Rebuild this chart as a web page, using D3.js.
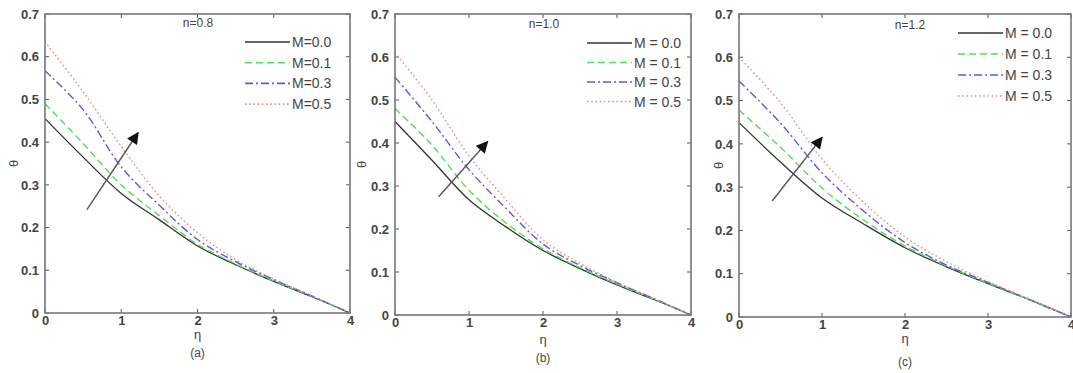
<!DOCTYPE html>
<html><head><meta charset="utf-8">
<script src="https://cdn.jsdelivr.net/npm/d3@7"></script>
<style>
body{margin:0;background:#fff;}
svg text{font-family:"Liberation Sans",Arial,sans-serif;fill:#444;}
</style></head>
<body><svg id="c" width="1073" height="373"></svg>
<script>
const eta = [0, 0.5, 1, 1.5, 2, 2.5, 3, 3.5, 4];
const xTicks = [0, 1, 2, 3, 4];
const yTicks = [0, 0.1, 0.2, 0.3, 0.4, 0.5, 0.6, 0.7];
const mValues = [0.0, 0.1, 0.3, 0.5];
const panelN = ["n=0.8", "n=1.0", "n=1.2"];
const panelTags = ["(a)", "(b)", "(c)"];

const a_M00 = [0.455, 0.365, 0.280, 0.218, 0.157, 0.113, 0.074, 0.038, 0];
const a_M01 = [0.490, 0.397, 0.300, 0.228, 0.161, 0.115, 0.075, 0.039, 0];
const a_M03 = [0.567, 0.476, 0.342, 0.252, 0.172, 0.120, 0.078, 0.040, 0];
const a_M05 = [0.635, 0.518, 0.390, 0.274, 0.188, 0.125, 0.080, 0.040, 0];

const b_M00 = [0.450, 0.360, 0.268, 0.205, 0.150, 0.108, 0.070, 0.036, 0];
const b_M01 = [0.480, 0.395, 0.290, 0.214, 0.154, 0.110, 0.072, 0.037, 0];
const b_M03 = [0.553, 0.450, 0.338, 0.248, 0.165, 0.115, 0.075, 0.038, 0];
const b_M05 = [0.610, 0.500, 0.370, 0.268, 0.175, 0.120, 0.076, 0.038, 0];

const c_M00 = [0.449, 0.358, 0.275, 0.215, 0.160, 0.116, 0.077, 0.040, 0];
const c_M01 = [0.478, 0.392, 0.298, 0.224, 0.164, 0.118, 0.078, 0.040, 0];
const c_M03 = [0.545, 0.448, 0.333, 0.245, 0.172, 0.120, 0.080, 0.040, 0];
const c_M05 = [0.600, 0.495, 0.365, 0.265, 0.185, 0.128, 0.082, 0.041, 0];

// arrow [eta0, theta0, eta1, theta1]
const arrowA = [0.55, 0.242, 1.22, 0.422];
const arrowB = [0.59, 0.275, 1.25, 0.403];
const arrowC = [0.40, 0.268, 1.00, 0.415];

const styles = [
  {color:"#333333", dash:null, w:1.3},
  {color:"#4fe04f", dash:"7,4", w:1.4},
  {color:"#5a5ae0", dash:"8,3,2,3", w:1.4},
  {color:"#f08a8a", dash:"1.6,2.6", w:1.4}
];

const panels = [
  {series:[a_M00,a_M01,a_M03,a_M05], arrow:arrowA, box:[45,350,14,313], legSep:"=", legX:245, legY:42, legDy:20.7, nX:198, nY:27, thX:13, etaY:339, tagY:357},
  {series:[b_M00,b_M01,b_M03,b_M05], arrow:arrowB, box:[395,691,14,315], legSep:" = ", legX:587, legY:43, legDy:19.5, nX:544, nY:28, thX:361, etaY:344, tagY:362},
  {series:[c_M00,c_M01,c_M03,c_M05], arrow:arrowC, box:[739,1071,14,317], legSep:" = ", legX:958, legY:33, legDy:21, nX:910, nY:29, thX:718, etaY:343, tagY:366}
];

const svg = d3.select("#c");
const defs = svg.append("defs");
defs.append("marker").attr("id","ah").attr("viewBox","0 0 10 10").attr("refX",9).attr("refY",5)
  .attr("markerWidth",13).attr("markerHeight",12).attr("markerUnits","userSpaceOnUse").attr("orient","auto")
  .append("path").attr("d","M0,0 L10,5 L0,10 z").attr("fill","#111");

panels.forEach((p, i) => {
  const [x0,x1,y0,y1] = p.box;
  const x = d3.scaleLinear().domain([0,4]).range([x0,x1]);
  const y = d3.scaleLinear().domain([0,0.7]).range([y1,y0]);
  const g = svg.append("g");

  const tl = 4;
  const tickStyle = s => s.attr("stroke","#555").attr("stroke-width",1);
  xTicks.forEach(t => {
    tickStyle(g.append("line").attr("x1",x(t)).attr("x2",x(t)).attr("y1",y1).attr("y2",y1-tl));
    tickStyle(g.append("line").attr("x1",x(t)).attr("x2",x(t)).attr("y1",y0).attr("y2",y0+tl));
  });
  yTicks.forEach(t => {
    tickStyle(g.append("line").attr("x1",x0).attr("x2",x0+tl).attr("y1",y(t)).attr("y2",y(t)));
    tickStyle(g.append("line").attr("x1",x1).attr("x2",x1-tl).attr("y1",y(t)).attr("y2",y(t)));
  });

  const line = d3.line().x((d,j)=>x(eta[j])).y(d=>y(d)).curve(d3.curveCatmullRom.alpha(0.5));
  p.series.forEach((s, k) => {
    const st = styles[k];
    g.append("path").attr("d", line(s)).attr("fill","none").attr("stroke",st.color)
      .attr("stroke-width",st.w).attr("stroke-dasharray",st.dash);
  });

  g.append("rect").attr("x",x0).attr("y",y0).attr("width",x1-x0).attr("height",y1-y0)
    .attr("fill","none").attr("stroke","#777").attr("stroke-width",1.6);

  const xa = d3.axisBottom(x).tickValues(xTicks).tickSize(0).tickPadding(3).tickFormat(d3.format("d"));
  const gx = g.append("g").attr("transform",`translate(0,${y1})`).call(xa);
  gx.select(".domain").remove();
  gx.selectAll("text").attr("font-size",13).attr("fill","#444").attr("font-weight","bold").attr("font-family","'Liberation Sans',Arial,sans-serif");
  const ya = d3.axisLeft(y).tickValues(yTicks).tickSize(0).tickPadding(6).tickFormat(d => d===0 ? "0" : d3.format(".1f")(d));
  const gy = g.append("g").attr("transform",`translate(${x0},0)`).call(ya);
  gy.select(".domain").remove();
  gy.selectAll("text").attr("font-size",13).attr("fill","#444").attr("font-weight","bold").attr("font-family","'Liberation Sans',Arial,sans-serif");

  const ar = p.arrow;
  g.append("line").attr("x1",x(ar[0])).attr("y1",y(ar[1])).attr("x2",x(ar[2])).attr("y2",y(ar[3]))
    .attr("stroke","#555").attr("stroke-width",1.4).attr("marker-end","url(#ah)");

  p.series.forEach((s,k) => {
    const st = styles[k];
    const ly = p.legY + k*p.legDy;
    g.append("line").attr("x1",p.legX).attr("x2",p.legX+45).attr("y1",ly).attr("y2",ly)
      .attr("stroke",st.color).attr("stroke-width",st.w+0.2).attr("stroke-dasharray",st.dash);
    g.append("text").attr("x",p.legX+47).attr("y",ly).attr("dy","0.36em").attr("font-size",14)
      .text("M" + p.legSep + mValues[k].toFixed(1));
  });

  g.append("text").attr("x",p.nX).attr("y",p.nY).attr("text-anchor","middle").attr("font-size",12).text(panelN[i]);

  g.append("text").attr("x",(x0+x1)/2).attr("y",p.etaY).attr("text-anchor","middle").attr("font-size",13).text("η");
  g.append("text").attr("x",(x0+x1)/2).attr("y",p.tagY).attr("text-anchor","middle").attr("font-size",12).text(panelTags[i]);
  g.append("text").attr("transform",`translate(${p.thX},${(y0+y1)/2}) rotate(-90)`).attr("dy","0.35em").attr("text-anchor","middle").attr("font-size",13).text("θ");
});
</script></body></html>
